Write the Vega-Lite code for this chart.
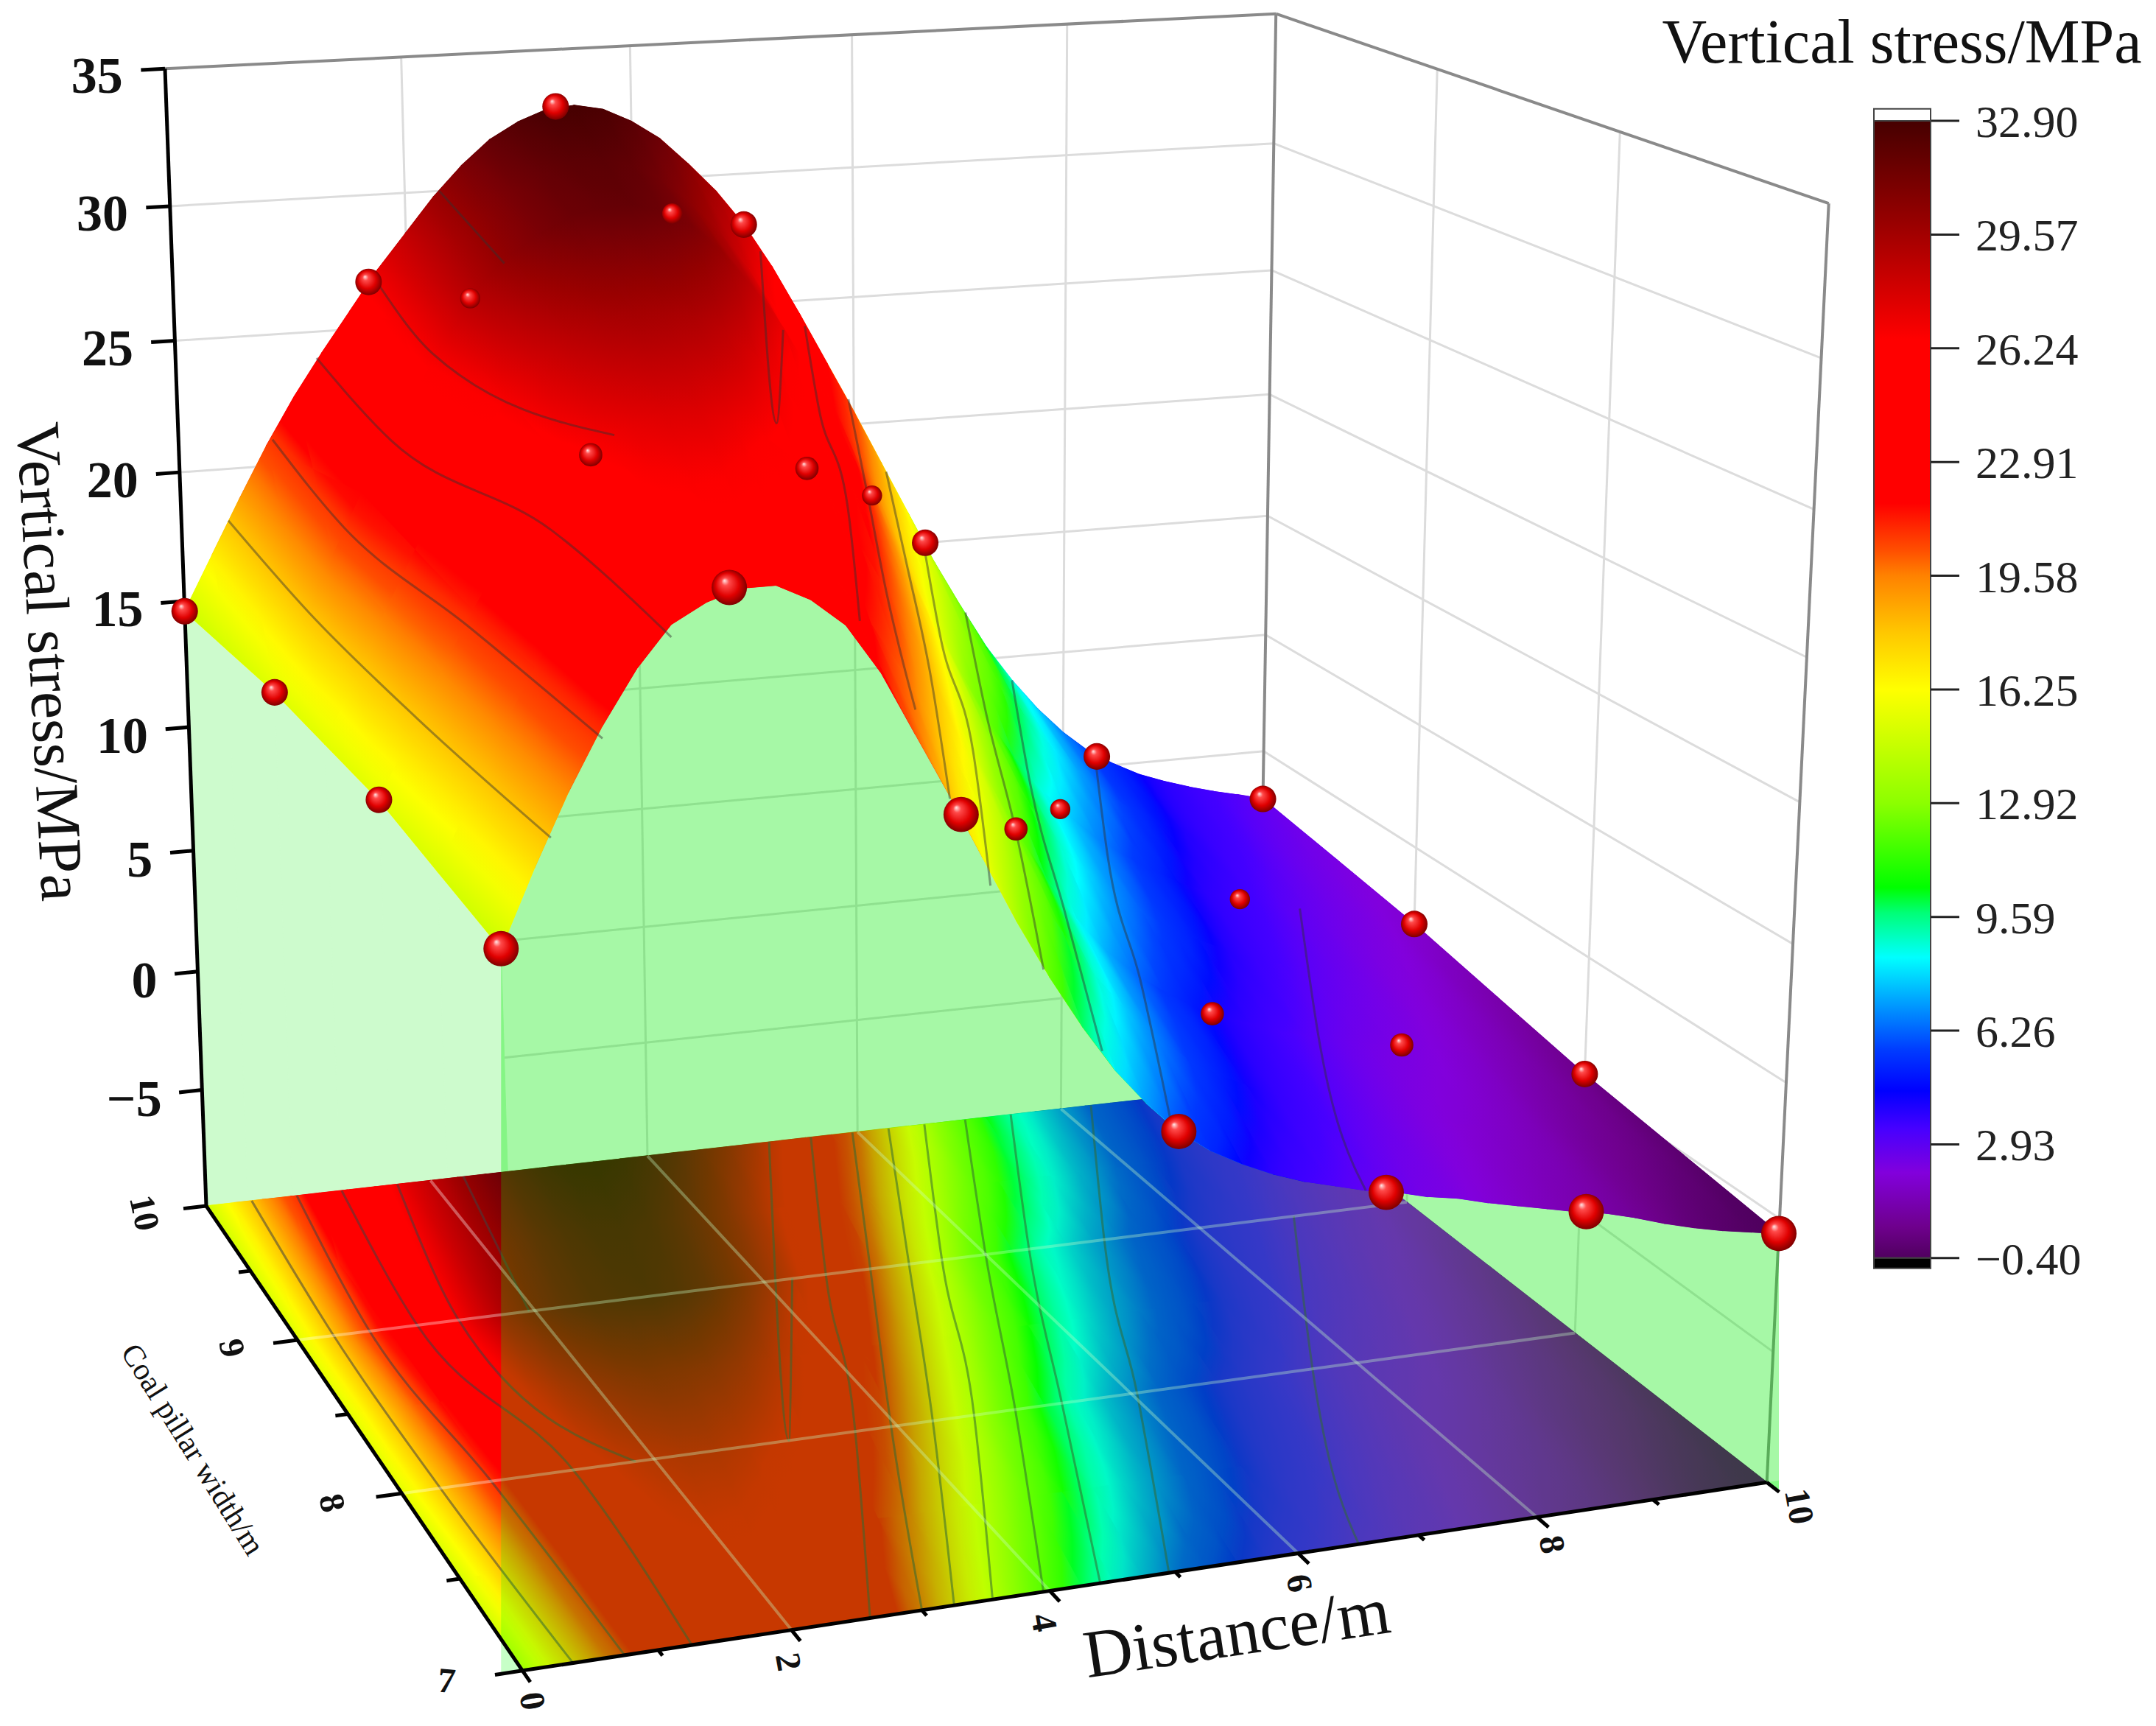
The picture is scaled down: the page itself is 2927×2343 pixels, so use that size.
{"$schema":"https://vega.github.io/schema/vega-lite/v6.json","width":2927,"height":2343,"autosize":"none","padding":0,"background":"white","config":{"view":{"stroke":null},"font":"Liberation Serif"},
"data":{"values":[
{"d":0,"w":10,"z":14.6},{"d":0.25,"w":10,"z":16.7},{"d":0.5,"w":10,"z":18.8},{"d":0.75,"w":10,"z":20.8},{"d":1,"w":10,"z":22.6},{"d":1.25,"w":10,"z":24.2},{"d":1.5,"w":10,"z":25.7},{"d":1.75,"w":10,"z":27.2},{"d":2,"w":10,"z":28.5},{"d":2.25,"w":10,"z":29.8},{"d":2.5,"w":10,"z":30.9},{"d":2.75,"w":10,"z":31.8},{"d":3,"w":10,"z":32.4},{"d":3.25,"w":10,"z":32.8},{"d":3.5,"w":10,"z":32.9},{"d":3.75,"w":10,"z":32.7},{"d":4,"w":10,"z":32.2},{"d":4.25,"w":10,"z":31.5},{"d":4.5,"w":10,"z":30.5},{"d":4.75,"w":10,"z":29.4},{"d":5,"w":10,"z":28.06},{"d":5.25,"w":10,"z":26.4},{"d":5.5,"w":10,"z":24.5},{"d":5.75,"w":10,"z":22.5},{"d":6,"w":10,"z":20.5},{"d":6.25,"w":10,"z":18.4},{"d":6.5,"w":10,"z":16.3},{"d":6.75,"w":10,"z":14.2},{"d":7,"w":10,"z":12.3},{"d":7.25,"w":10,"z":10.5},{"d":7.5,"w":10,"z":9},{"d":7.75,"w":10,"z":7.7},{"d":8,"w":10,"z":6.6},{"d":8.25,"w":10,"z":5.7},{"d":8.5,"w":10,"z":5.05},{"d":8.75,"w":10,"z":4.5},{"d":9,"w":10,"z":4.1},{"d":9.25,"w":10,"z":3.75},{"d":9.5,"w":10,"z":3.45},{"d":9.75,"w":10,"z":3.2},{"d":10,"w":10,"z":2.92},
{"d":0,"w":9.5,"z":14.9},{"d":0.25,"w":9.5,"z":17.15},{"d":0.5,"w":9.5,"z":19.4},{"d":0.75,"w":9.5,"z":21.5},{"d":1,"w":9.5,"z":23.4},{"d":1.25,"w":9.5,"z":25.1},{"d":1.5,"w":9.5,"z":26.7},{"d":1.75,"w":9.5,"z":28.2},{"d":2,"w":9.5,"z":29.4},{"d":2.25,"w":9.5,"z":30.4},{"d":2.5,"w":9.5,"z":31.2},{"d":2.75,"w":9.5,"z":31.75},{"d":3,"w":9.5,"z":32.1},{"d":3.25,"w":9.5,"z":32.15},{"d":3.5,"w":9.5,"z":31.9},{"d":3.75,"w":9.5,"z":31.3},{"d":4,"w":9.5,"z":30.4},{"d":4.25,"w":9.5,"z":29.3},{"d":4.5,"w":9.5,"z":27.85},{"d":4.75,"w":9.5,"z":26.2},{"d":5,"w":9.5,"z":24.4},{"d":5.25,"w":9.5,"z":22.4},{"d":5.5,"w":9.5,"z":20.3},{"d":5.75,"w":9.5,"z":18.2},{"d":6,"w":9.5,"z":16.2},{"d":6.25,"w":9.5,"z":14.3},{"d":6.5,"w":9.5,"z":12.55},{"d":6.75,"w":9.5,"z":10.95},{"d":7,"w":9.5,"z":9.5},{"d":7.25,"w":9.5,"z":8.2},{"d":7.5,"w":9.5,"z":7.1},{"d":7.75,"w":9.5,"z":6.15},{"d":8,"w":9.5,"z":5.35},{"d":8.25,"w":9.5,"z":4.7},{"d":8.5,"w":9.5,"z":4.25},{"d":8.75,"w":9.5,"z":3.8},{"d":9,"w":9.5,"z":3.5},{"d":9.25,"w":9.5,"z":3.2},{"d":9.5,"w":9.5,"z":2.9},{"d":9.75,"w":9.5,"z":2.65},{"d":10,"w":9.5,"z":2.4},
{"d":0,"w":9,"z":15.2},{"d":0.25,"w":9,"z":17.6},{"d":0.5,"w":9,"z":20},{"d":0.75,"w":9,"z":22.2},{"d":1,"w":9,"z":24.2},{"d":1.25,"w":9,"z":26},{"d":1.5,"w":9,"z":27.7},{"d":1.75,"w":9,"z":29.2},{"d":2,"w":9,"z":30.3},{"d":2.25,"w":9,"z":31},{"d":2.5,"w":9,"z":31.5},{"d":2.75,"w":9,"z":31.7},{"d":3,"w":9,"z":31.8},{"d":3.25,"w":9,"z":31.5},{"d":3.5,"w":9,"z":30.9},{"d":3.75,"w":9,"z":29.9},{"d":4,"w":9,"z":28.6},{"d":4.25,"w":9,"z":27.1},{"d":4.5,"w":9,"z":25.2},{"d":4.75,"w":9,"z":23},{"d":5,"w":9,"z":20.7},{"d":5.25,"w":9,"z":18.4},{"d":5.5,"w":9,"z":16.1},{"d":5.75,"w":9,"z":13.9},{"d":6,"w":9,"z":11.9},{"d":6.25,"w":9,"z":10.2},{"d":6.5,"w":9,"z":8.8},{"d":6.75,"w":9,"z":7.7},{"d":7,"w":9,"z":6.7},{"d":7.25,"w":9,"z":5.9},{"d":7.5,"w":9,"z":5.2},{"d":7.75,"w":9,"z":4.6},{"d":8,"w":9,"z":4.1},{"d":8.25,"w":9,"z":3.75},{"d":8.5,"w":9,"z":3.45},{"d":8.75,"w":9,"z":3.15},{"d":9,"w":9,"z":2.9},{"d":9.25,"w":9,"z":2.65},{"d":9.5,"w":9,"z":2.4},{"d":9.75,"w":9,"z":2.1},{"d":10,"w":9,"z":1.86},
{"d":0,"w":8.5,"z":15.25},{"d":0.25,"w":8.5,"z":17.5},{"d":0.5,"w":8.5,"z":19.75},{"d":0.75,"w":8.5,"z":21.85},{"d":1,"w":8.5,"z":23.75},{"d":1.25,"w":8.5,"z":25.4},{"d":1.5,"w":8.5,"z":26.85},{"d":1.75,"w":8.5,"z":28},{"d":2,"w":8.5,"z":28.8},{"d":2.25,"w":8.5,"z":29.3},{"d":2.5,"w":8.5,"z":29.55},{"d":2.75,"w":8.5,"z":29.45},{"d":3,"w":8.5,"z":29.2},{"d":3.25,"w":8.5,"z":28.6},{"d":3.5,"w":8.5,"z":27.65},{"d":3.75,"w":8.5,"z":26.25},{"d":4,"w":8.5,"z":24.6},{"d":4.25,"w":8.5,"z":22.85},{"d":4.5,"w":8.5,"z":20.8},{"d":4.75,"w":8.5,"z":18.6},{"d":5,"w":8.5,"z":16.4},{"d":5.25,"w":8.5,"z":14.3},{"d":5.5,"w":8.5,"z":12.35},{"d":5.75,"w":8.5,"z":10.6},{"d":6,"w":8.5,"z":9.1},{"d":6.25,"w":8.5,"z":7.85},{"d":6.5,"w":8.5,"z":6.8},{"d":6.75,"w":8.5,"z":6},{"d":7,"w":8.5,"z":5.3},{"d":7.25,"w":8.5,"z":4.7},{"d":7.5,"w":8.5,"z":4.2},{"d":7.75,"w":8.5,"z":3.75},{"d":8,"w":8.5,"z":3.4},{"d":8.25,"w":8.5,"z":3.1},{"d":8.5,"w":8.5,"z":2.85},{"d":8.75,"w":8.5,"z":2.6},{"d":9,"w":8.5,"z":2.3},{"d":9.25,"w":8.5,"z":2.05},{"d":9.5,"w":8.5,"z":1.8},{"d":9.75,"w":8.5,"z":1.45},{"d":10,"w":8.5,"z":1.15},
{"d":0,"w":8,"z":15.3},{"d":0.25,"w":8,"z":17.4},{"d":0.5,"w":8,"z":19.5},{"d":0.75,"w":8,"z":21.5},{"d":1,"w":8,"z":23.3},{"d":1.25,"w":8,"z":24.8},{"d":1.5,"w":8,"z":26},{"d":1.75,"w":8,"z":26.8},{"d":2,"w":8,"z":27.3},{"d":2.25,"w":8,"z":27.6},{"d":2.5,"w":8,"z":27.6},{"d":2.75,"w":8,"z":27.2},{"d":3,"w":8,"z":26.6},{"d":3.25,"w":8,"z":25.7},{"d":3.5,"w":8,"z":24.4},{"d":3.75,"w":8,"z":22.6},{"d":4,"w":8,"z":20.6},{"d":4.25,"w":8,"z":18.6},{"d":4.5,"w":8,"z":16.4},{"d":4.75,"w":8,"z":14.2},{"d":5,"w":8,"z":12.1},{"d":5.25,"w":8,"z":10.2},{"d":5.5,"w":8,"z":8.6},{"d":5.75,"w":8,"z":7.3},{"d":6,"w":8,"z":6.3},{"d":6.25,"w":8,"z":5.5},{"d":6.5,"w":8,"z":4.8},{"d":6.75,"w":8,"z":4.3},{"d":7,"w":8,"z":3.9},{"d":7.25,"w":8,"z":3.5},{"d":7.5,"w":8,"z":3.2},{"d":7.75,"w":8,"z":2.9},{"d":8,"w":8,"z":2.65},{"d":8.25,"w":8,"z":2.45},{"d":8.5,"w":8,"z":2.25},{"d":8.75,"w":8,"z":2},{"d":9,"w":8,"z":1.75},{"d":9.25,"w":8,"z":1.45},{"d":9.5,"w":8,"z":1.15},{"d":9.75,"w":8,"z":0.8},{"d":10,"w":8,"z":0.45},
{"d":0,"w":7.5,"z":14.95},{"d":0.25,"w":7.5,"z":17.15},{"d":0.5,"w":7.5,"z":19.45},{"d":0.75,"w":7.5,"z":21.4},{"d":1,"w":7.5,"z":23.2},{"d":1.25,"w":7.5,"z":24.6},{"d":1.5,"w":7.5,"z":25.5},{"d":1.75,"w":7.5,"z":26.1},{"d":2,"w":7.5,"z":26.3},{"d":2.25,"w":7.5,"z":26.2},{"d":2.5,"w":7.5,"z":25.75},{"d":2.75,"w":7.5,"z":24.75},{"d":3,"w":7.5,"z":23.4},{"d":3.25,"w":7.5,"z":21.9},{"d":3.5,"w":7.5,"z":20.15},{"d":3.75,"w":7.5,"z":18.15},{"d":4,"w":7.5,"z":16.15},{"d":4.25,"w":7.5,"z":14.25},{"d":4.5,"w":7.5,"z":12.35},{"d":4.75,"w":7.5,"z":10.6},{"d":5,"w":7.5,"z":9},{"d":5.25,"w":7.5,"z":7.65},{"d":5.5,"w":7.5,"z":6.55},{"d":5.75,"w":7.5,"z":5.65},{"d":6,"w":7.5,"z":4.95},{"d":6.25,"w":7.5,"z":4.4},{"d":6.5,"w":7.5,"z":3.9},{"d":6.75,"w":7.5,"z":3.55},{"d":7,"w":7.5,"z":3.2},{"d":7.25,"w":7.5,"z":2.9},{"d":7.5,"w":7.5,"z":2.6},{"d":7.75,"w":7.5,"z":2.3},{"d":8,"w":7.5,"z":2.05},{"d":8.25,"w":7.5,"z":1.85},{"d":8.5,"w":7.5,"z":1.65},{"d":8.75,"w":7.5,"z":1.4},{"d":9,"w":7.5,"z":1.05},{"d":9.25,"w":7.5,"z":0.75},{"d":9.5,"w":7.5,"z":0.5},{"d":9.75,"w":7.5,"z":0.25},{"d":10,"w":7.5,"z":-0.05},
{"d":0,"w":7,"z":14.6},{"d":0.25,"w":7,"z":17.1},{"d":0.5,"w":7,"z":19.4},{"d":0.75,"w":7,"z":21.4},{"d":1,"w":7,"z":23.1},{"d":1.25,"w":7,"z":24.4},{"d":1.5,"w":7,"z":25},{"d":1.75,"w":7,"z":25.35},{"d":2,"w":7,"z":25.35},{"d":2.25,"w":7,"z":24.8},{"d":2.5,"w":7,"z":23.9},{"d":2.75,"w":7,"z":22.3},{"d":3,"w":7,"z":20.2},{"d":3.25,"w":7,"z":18.1},{"d":3.5,"w":7,"z":15.9},{"d":3.75,"w":7,"z":13.7},{"d":4,"w":7,"z":11.7},{"d":4.25,"w":7,"z":9.9},{"d":4.5,"w":7,"z":8.3},{"d":4.75,"w":7,"z":7},{"d":5,"w":7,"z":5.9},{"d":5.25,"w":7,"z":5.1},{"d":5.5,"w":7,"z":4.5},{"d":5.75,"w":7,"z":4},{"d":6,"w":7,"z":3.6},{"d":6.25,"w":7,"z":3.3},{"d":6.5,"w":7,"z":3},{"d":6.75,"w":7,"z":2.8},{"d":7,"w":7,"z":2.5},{"d":7.25,"w":7,"z":2.3},{"d":7.5,"w":7,"z":2},{"d":7.75,"w":7,"z":1.75},{"d":8,"w":7,"z":1.5},{"d":8.25,"w":7,"z":1.25},{"d":8.5,"w":7,"z":1.05},{"d":8.75,"w":7,"z":0.75},{"d":9,"w":7,"z":0.4},{"d":9.25,"w":7,"z":0.1},{"d":9.5,"w":7,"z":-0.15},{"d":9.75,"w":7,"z":-0.35},{"d":10,"w":7,"z":-0.55},
{"k":"b","d":0,"w":10,"z":14.6},{"k":"b","d":1.667,"w":10,"z":26.75},{"k":"b","d":3.333,"w":10,"z":32.9},{"k":"b","d":5,"w":10,"z":28.06},{"k":"b","d":6.667,"w":10,"z":15},{"k":"b","d":8.333,"w":10,"z":5.44},{"k":"b","d":10,"w":10,"z":2.92},
{"k":"b","d":0,"w":9,"z":15.2},{"k":"b","d":1.667,"w":9,"z":28.85},{"k":"b","d":3.333,"w":9,"z":31.4},{"k":"b","d":5,"w":9,"z":20.7},{"k":"b","d":6.667,"w":9,"z":8},{"k":"b","d":8.333,"w":9,"z":3.64},{"k":"b","d":10,"w":9,"z":1.86},
{"k":"b","d":0,"w":8,"z":15.3},{"k":"b","d":1.667,"w":8,"z":26.4},{"k":"b","d":3.333,"w":8,"z":25.4},{"k":"b","d":5,"w":8,"z":12.1},{"k":"b","d":6.667,"w":8,"z":4.46},{"k":"b","d":8.333,"w":8,"z":2.43},{"k":"b","d":10,"w":8,"z":0.45},
{"k":"b","d":0,"w":7,"z":14.6},{"k":"b","d":1.667,"w":7,"z":25.4},{"k":"b","d":3.333,"w":7,"z":17.45},{"k":"b","d":5,"w":7,"z":5.9},{"k":"b","d":6.667,"w":7,"z":2.83},{"k":"b","d":8.333,"w":7,"z":1.2},{"k":"b","d":10,"w":7,"z":-0.55},
{"k":"c","l":"f3","z":3,"d":8.9,"w":9},{"k":"c","l":"f3","z":3,"d":7.6,"w":8},{"k":"c","l":"f3","z":3,"d":6.5,"w":7},
{"k":"c","l":"f6","z":6,"d":8.3,"w":10},{"k":"c","l":"f6","z":6,"d":7.1,"w":9},{"k":"c","l":"f6","z":6,"d":6.05,"w":8},{"k":"c","l":"f6","z":6,"d":4.95,"w":7},
{"k":"c","l":"f9","z":9,"d":7.5,"w":10},{"k":"c","l":"f9","z":9,"d":6.4,"w":9},{"k":"c","l":"f9","z":9,"d":5.4,"w":8},{"k":"c","l":"f9","z":9,"d":4.4,"w":7},
{"k":"c","l":"f12","z":12,"d":7.05,"w":10},{"k":"c","l":"f12","z":12,"d":6,"w":9},{"k":"c","l":"f12","z":12,"d":5,"w":8},{"k":"c","l":"f12","z":12,"d":3.95,"w":7},
{"k":"c","l":"f15","z":15,"d":6.65,"w":10},{"k":"c","l":"f15","z":15,"d":5.6,"w":9},{"k":"c","l":"f15","z":15,"d":4.65,"w":8},{"k":"c","l":"f15","z":15,"d":3.55,"w":7},
{"k":"c","l":"f18","z":18,"d":6.3,"w":10},{"k":"c","l":"f18","z":18,"d":5.3,"w":9},{"k":"c","l":"f18","z":18,"d":4.3,"w":8},{"k":"c","l":"f18","z":18,"d":3.25,"w":7},
{"k":"c","l":"f21","z":21,"d":5.95,"w":10},{"k":"c","l":"f21","z":21,"d":4.95,"w":9},{"k":"c","l":"f21","z":21,"d":3.95,"w":8},{"k":"c","l":"f21","z":21,"d":3,"w":7},
{"k":"c","l":"f24","z":24,"d":5.55,"w":10},{"k":"c","l":"f24","z":24,"d":4.55,"w":9},{"k":"c","l":"f24","z":24,"d":3.65,"w":8},{"k":"c","l":"f24","z":24,"d":2.6,"w":7},
{"k":"c","l":"f27","z":27,"d":5.15,"w":10},{"k":"c","l":"f27","z":27,"d":4.25,"w":9},{"k":"c","l":"f27","z":27,"d":3.1,"w":8},
{"k":"c","l":"r18","z":18,"d":0.4,"w":10},{"k":"c","l":"r18","z":18,"d":0.3,"w":9},{"k":"c","l":"r18","z":18,"d":0.3,"w":8},{"k":"c","l":"r18","z":18,"d":0.37,"w":7},
{"k":"c","l":"r21","z":21,"d":0.8,"w":10},{"k":"c","l":"r21","z":21,"d":0.6,"w":9},{"k":"c","l":"r21","z":21,"d":0.7,"w":8},{"k":"c","l":"r21","z":21,"d":0.75,"w":7},
{"k":"c","l":"r24","z":24,"d":1.2,"w":10},{"k":"c","l":"r24","z":24,"d":1,"w":9},{"k":"c","l":"r24","z":24,"d":1.35,"w":8},{"k":"c","l":"r24","z":24,"d":1.25,"w":7},
{"k":"c","l":"r27","z":27,"d":1.7,"w":10},{"k":"c","l":"r27","z":27,"d":1.35,"w":9},{"k":"c","l":"r27","z":27,"d":1.85,"w":8},
{"k":"c","l":"r30","z":30,"d":2.3,"w":10},{"k":"c","l":"r30","z":30,"d":1.95,"w":9},
{"k":"gw","l":"b-5","d":0,"w":10,"z":-5},{"k":"gw","l":"b-5","d":10,"w":10,"z":-5},{"k":"gw","l":"r-5","d":10,"w":10,"z":-5},{"k":"gw","l":"r-5","d":10,"w":7,"z":-5},
{"k":"gw","l":"b0","d":0,"w":10,"z":0},{"k":"gw","l":"b0","d":10,"w":10,"z":0},{"k":"gw","l":"r0","d":10,"w":10,"z":0},{"k":"gw","l":"r0","d":10,"w":7,"z":0},
{"k":"gw","l":"b5","d":0,"w":10,"z":5},{"k":"gw","l":"b5","d":10,"w":10,"z":5},{"k":"gw","l":"r5","d":10,"w":10,"z":5},{"k":"gw","l":"r5","d":10,"w":7,"z":5},
{"k":"gw","l":"b10","d":0,"w":10,"z":10},{"k":"gw","l":"b10","d":10,"w":10,"z":10},{"k":"gw","l":"r10","d":10,"w":10,"z":10},{"k":"gw","l":"r10","d":10,"w":7,"z":10},
{"k":"gw","l":"b15","d":0,"w":10,"z":15},{"k":"gw","l":"b15","d":10,"w":10,"z":15},{"k":"gw","l":"r15","d":10,"w":10,"z":15},{"k":"gw","l":"r15","d":10,"w":7,"z":15},
{"k":"gw","l":"b20","d":0,"w":10,"z":20},{"k":"gw","l":"b20","d":10,"w":10,"z":20},{"k":"gw","l":"r20","d":10,"w":10,"z":20},{"k":"gw","l":"r20","d":10,"w":7,"z":20},
{"k":"gw","l":"b25","d":0,"w":10,"z":25},{"k":"gw","l":"b25","d":10,"w":10,"z":25},{"k":"gw","l":"r25","d":10,"w":10,"z":25},{"k":"gw","l":"r25","d":10,"w":7,"z":25},
{"k":"gw","l":"b30","d":0,"w":10,"z":30},{"k":"gw","l":"b30","d":10,"w":10,"z":30},{"k":"gw","l":"r30","d":10,"w":10,"z":30},{"k":"gw","l":"r30","d":10,"w":7,"z":30},
{"k":"gw","l":"v2","d":2,"w":10,"z":-10},{"k":"gw","l":"v2","d":2,"w":10,"z":35},{"k":"gw","l":"v4","d":4,"w":10,"z":-10},{"k":"gw","l":"v4","d":4,"w":10,"z":35},{"k":"gw","l":"v6","d":6,"w":10,"z":-10},{"k":"gw","l":"v6","d":6,"w":10,"z":35},{"k":"gw","l":"v8","d":8,"w":10,"z":-10},{"k":"gw","l":"v8","d":8,"w":10,"z":35},
{"k":"gw","l":"w9","d":10,"w":9,"z":-10},{"k":"gw","l":"w9","d":10,"w":9,"z":35},{"k":"gw","l":"w8","d":10,"w":8,"z":-10},{"k":"gw","l":"w8","d":10,"w":8,"z":35},
{"k":"gf","l":"d2","d":2,"w":10,"z":-10},{"k":"gf","l":"d2","d":2,"w":7,"z":-10},{"k":"gf","l":"d4","d":4,"w":10,"z":-10},{"k":"gf","l":"d4","d":4,"w":7,"z":-10},{"k":"gf","l":"d6","d":6,"w":10,"z":-10},{"k":"gf","l":"d6","d":6,"w":7,"z":-10},{"k":"gf","l":"d8","d":8,"w":10,"z":-10},{"k":"gf","l":"d8","d":8,"w":7,"z":-10},
{"k":"gf","l":"w9","d":0,"w":9,"z":-10},{"k":"gf","l":"w9","d":10,"w":9,"z":-10},{"k":"gf","l":"w8","d":0,"w":8,"z":-10},{"k":"gf","l":"w8","d":10,"w":8,"z":-10},
{"k":"e","l":"a","d":0,"w":10,"z":35},{"k":"e","l":"a","d":10,"w":10,"z":35},{"k":"e","l":"b","d":10,"w":10,"z":35},{"k":"e","l":"b","d":10,"w":7,"z":35},{"k":"e","l":"c","d":10,"w":7,"z":35},{"k":"e","l":"c","d":10,"w":7,"z":-10},{"k":"e","l":"f","d":10,"w":10,"z":35},{"k":"e","l":"f","d":10,"w":10,"z":-10},
{"k":"a","l":"z","d":0,"w":10,"z":35},{"k":"a","l":"z","d":0,"w":10,"z":-10},{"k":"a","l":"l","d":0,"w":10,"z":-10},{"k":"a","l":"l","d":0,"w":7,"z":-10},{"k":"a","l":"f","d":0,"w":7,"z":-10},{"k":"a","l":"f","d":10,"w":7,"z":-10},
{"k":"a","l":"z35","d":0,"w":10,"z":35},{"k":"a","l":"z35","d":-0.2,"w":10,"z":35},{"k":"a","l":"z30","d":0,"w":10,"z":30},{"k":"a","l":"z30","d":-0.2,"w":10,"z":30},{"k":"a","l":"z25","d":0,"w":10,"z":25},{"k":"a","l":"z25","d":-0.2,"w":10,"z":25},{"k":"a","l":"z20","d":0,"w":10,"z":20},{"k":"a","l":"z20","d":-0.2,"w":10,"z":20},{"k":"a","l":"z15","d":0,"w":10,"z":15},{"k":"a","l":"z15","d":-0.2,"w":10,"z":15},{"k":"a","l":"z10","d":0,"w":10,"z":10},{"k":"a","l":"z10","d":-0.2,"w":10,"z":10},{"k":"a","l":"z5","d":0,"w":10,"z":5},{"k":"a","l":"z5","d":-0.2,"w":10,"z":5},{"k":"a","l":"z0","d":0,"w":10,"z":0},{"k":"a","l":"z0","d":-0.2,"w":10,"z":0},{"k":"a","l":"z-5","d":0,"w":10,"z":-5},{"k":"a","l":"z-5","d":-0.2,"w":10,"z":-5},{"k":"a","l":"z-10","d":0,"w":10,"z":-10},{"k":"a","l":"z-10","d":-0.2,"w":10,"z":-10},
{"k":"a","l":"w9m","d":0,"w":9.5,"z":-10},{"k":"a","l":"w9m","d":-0.1,"w":9.5,"z":-10},{"k":"a","l":"w9","d":0,"w":9,"z":-10},{"k":"a","l":"w9","d":-0.2,"w":9,"z":-10},{"k":"a","l":"w8m","d":0,"w":8.5,"z":-10},{"k":"a","l":"w8m","d":-0.1,"w":8.5,"z":-10},{"k":"a","l":"w8","d":0,"w":8,"z":-10},{"k":"a","l":"w8","d":-0.2,"w":8,"z":-10},{"k":"a","l":"w7m","d":0,"w":7.5,"z":-10},{"k":"a","l":"w7m","d":-0.1,"w":7.5,"z":-10},{"k":"a","l":"w7","d":0,"w":7,"z":-10},{"k":"a","l":"w7","d":-0.2,"w":7,"z":-10},
{"k":"a","l":"d0","d":0,"w":7,"z":-10},{"k":"a","l":"d0","d":0,"w":6.94,"z":-10},{"k":"a","l":"d1","d":1,"w":7,"z":-10},{"k":"a","l":"d1","d":1,"w":6.97,"z":-10},{"k":"a","l":"d2","d":2,"w":7,"z":-10},{"k":"a","l":"d2","d":2,"w":6.94,"z":-10},{"k":"a","l":"d3","d":3,"w":7,"z":-10},{"k":"a","l":"d3","d":3,"w":6.97,"z":-10},{"k":"a","l":"d4","d":4,"w":7,"z":-10},{"k":"a","l":"d4","d":4,"w":6.94,"z":-10},{"k":"a","l":"d5","d":5,"w":7,"z":-10},{"k":"a","l":"d5","d":5,"w":6.97,"z":-10},{"k":"a","l":"d6","d":6,"w":7,"z":-10},{"k":"a","l":"d6","d":6,"w":6.94,"z":-10},{"k":"a","l":"d7","d":7,"w":7,"z":-10},{"k":"a","l":"d7","d":7,"w":6.97,"z":-10},{"k":"a","l":"d8","d":8,"w":7,"z":-10},{"k":"a","l":"d8","d":8,"w":6.94,"z":-10},{"k":"a","l":"d9","d":9,"w":7,"z":-10},{"k":"a","l":"d9","d":9,"w":6.97,"z":-10},{"k":"a","l":"d10","d":10,"w":7,"z":-10},{"k":"a","l":"d10","d":10,"w":6.94,"z":-10},
{"k":"zl","d":-0.35,"w":10,"z":35,"lab":"35"},{"k":"zl","d":-0.35,"w":10,"z":30,"lab":"30"},{"k":"zl","d":-0.35,"w":10,"z":25,"lab":"25"},{"k":"zl","d":-0.35,"w":10,"z":20,"lab":"20"},{"k":"zl","d":-0.35,"w":10,"z":15,"lab":"15"},{"k":"zl","d":-0.35,"w":10,"z":10,"lab":"10"},{"k":"zl","d":-0.35,"w":10,"z":5,"lab":"5"},{"k":"zl","d":-0.35,"w":10,"z":0,"lab":"0"},{"k":"zl","d":-0.35,"w":10,"z":-5,"lab":"−5"},
{"k":"dl","d":-0.08,"w":6.85,"z":-10,"lab":"0"},{"k":"dl","d":1.8,"w":6.85,"z":-10,"lab":"2"},{"k":"dl","d":3.75,"w":6.85,"z":-10,"lab":"4"},{"k":"dl","d":5.78,"w":6.85,"z":-10,"lab":"6"},{"k":"dl","d":7.87,"w":6.85,"z":-10,"lab":"8"},{"k":"dl","d":10,"w":6.85,"z":-10,"lab":"10"},
{"k":"wl","d":-0.55,"w":10,"z":-10,"lab":"10"},{"k":"wl","d":-0.55,"w":9,"z":-10,"lab":"9"},{"k":"wl","d":-0.55,"w":8,"z":-10,"lab":"8"},{"k":"wl7","d":-0.55,"w":7,"z":-10,"lab":"7"},
{"k":"t1","d":-1.17,"w":10,"z":13.06,"lab":"Vertical stress/MPa"},{"k":"t2","d":5,"w":6.65,"z":-10,"lab":"Distance/m"},{"k":"t3","d":-1.3,"w":8.41,"z":-10,"lab":"Coal pillar width/m"},
{"k":"cb","cv":32.9},{"k":"cb","cv":29.57},{"k":"cb","cv":26.24},{"k":"cb","cv":22.91},{"k":"cb","cv":19.58},{"k":"cb","cv":16.25},{"k":"cb","cv":12.92},{"k":"cb","cv":9.59},{"k":"cb","cv":6.26},{"k":"cb","cv":2.93},{"k":"cb","cv":-0.4},
{"k":"bar","cv":32.9,"cv2":-0.4},{"k":"top","cv":33.25,"cv2":32.9},{"k":"bot","cv":-0.4,"cv2":-0.7},{"k":"ct","cv":35.15,"lab":"Vertical stress/MPa"}
]},
"transform":[
{"calculate":"datum.d/10","as":"u"},{"calculate":"(10-datum.w)/3","as":"v"},
{"calculate":"1+0.0837*datum.u-0.1889*datum.v","as":"wf"},
{"calculate":"1.8667*(150+841.6*datum.u+158.2*datum.v)/datum.wf","as":"xf"},
{"calculate":"1.8667*(877-20.8*datum.u+108.4*datum.v)/datum.wf","as":"yf"},
{"calculate":"1+0.08*datum.u-0.19*datum.v","as":"wt"},
{"calculate":"1.8667*((120+882.2*datum.u+181.5*datum.v)/datum.wt-22*(1-datum.u)*datum.v)","as":"xt"},
{"calculate":"1.8667*(50-39.2*datum.u+120.9*datum.v)/datum.wt","as":"yt"},
{"calculate":"(datum.z+10)/45","as":"t"},
{"calculate":"datum.t/(1+0.1*(1-datum.t))","as":"s"},
{"calculate":"datum.xf+(datum.xt-datum.xf)*datum.s","as":"x"},
{"calculate":"datum.yf+(datum.yt-datum.yf)*datum.s","as":"y"}
],
"encoding":{"x":{"field":"x","type":"quantitative","scale":{"domain":[0,2927],"nice":false,"zero":false},"axis":null},"y":{"field":"y","type":"quantitative","scale":{"domain":[2343,0],"nice":false,"zero":false},"axis":null}},
"layer":[
{"transform":[{"filter":"datum.k=='gw'"}],"mark":{"type":"line","stroke":"#dcdcdc","strokeWidth":3},"encoding":{"detail":{"field":"l"}}},
{"transform":[{"filter":"datum.k=='e'"}],"mark":{"type":"line","stroke":"#8a8a8a","strokeWidth":4},"encoding":{"detail":{"field":"l"}}},
{"transform":[{"filter":"!datum.k&&datum.d==0"},
{"window":[{"op":"lead","field":"x","as":"xw"},{"op":"lead","field":"y","as":"yw"},{"op":"lead","field":"xf","as":"xfw"},{"op":"lead","field":"yf","as":"yfw"}],"sort":[{"field":"w"}]},
{"filter":"isValid(datum.xw)"},
{"calculate":"'M0,0L'+round((datum.xw-datum.x)*10)/10+','+round((datum.yw-datum.y)*10)/10+'L'+round((datum.xfw-datum.x)*10)/10+','+round((datum.yfw-datum.y)*10)/10+'L'+round((datum.xf-datum.x)*10)/10+','+round((datum.yf-datum.y)*10)/10+'Z'","as":"p"}],
"mark":{"type":"point","filled":true,"opacity":1,"size":4,"fill":"#cdfbcd","stroke":"#cdfbcd","strokeWidth":1},
"encoding":{"shape":{"field":"p","type":"nominal","scale":null,"legend":null}}},
{"transform":[{"filter":"!datum.k"},{"calculate":"datum.xf","as":"x"},{"calculate":"datum.yf","as":"y"},
{"window":[{"op":"lead","field":"x","as":"xn"},{"op":"lead","field":"y","as":"yn"},{"op":"lead","field":"z","as":"zn"}],"groupby":["w"],"sort":[{"field":"d"}]},
{"window":[{"op":"lead","field":"x","as":"xw"},{"op":"lead","field":"y","as":"yw"},{"op":"lead","field":"xn","as":"xnw"},{"op":"lead","field":"yn","as":"ynw"},{"op":"lead","field":"z","as":"zw"},{"op":"lead","field":"zn","as":"znw"}],"groupby":["d"],"sort":[{"field":"w"}]},
{"filter":"isValid(datum.xn)&&isValid(datum.xw)&&isValid(datum.xnw)"},
{"calculate":"(datum.z+datum.zn+datum.zw+datum.znw)/4","as":"zc"},
{"calculate":"'M0,0L'+round((datum.xn-datum.x)*10)/10+','+round((datum.yn-datum.y)*10)/10+'L'+round((datum.xnw-datum.x)*10)/10+','+round((datum.ynw-datum.y)*10)/10+'L'+round((datum.xw-datum.x)*10)/10+','+round((datum.yw-datum.y)*10)/10+'Z'","as":"p"}],
"mark":{"type":"point","filled":true,"opacity":1,"size":4,"strokeWidth":1.5},
"encoding":{"shape":{"field":"p","type":"nominal","scale":null,"legend":null},
"color":{"field":"zc","type":"quantitative","scale":{"domain":[-0.4,0.5,2.1,3.4,4.5,5.7,7.1,8.4,9.7,10.45,12.92,16.25,17.9,19.58,20.3,21.7,26.5,30,32.9],"range":["#50005f","#6e008c","#8200dc","#4600ff","#0000ff","#003cff","#00a0ff","#00ffff","#00ff78","#00ff00","#8cff00","#ffff00","#ffc800","#ff8200","#ff5000","#ff0000","#ff0000","#960000","#460000"],"clamp":true},"legend":null},
"stroke":{"field":"zc","type":"quantitative","legend":null,"scale":{"domain":[-0.4,0.5,2.1,3.4,4.5,5.7,7.1,8.4,9.7,10.45,12.92,16.25,17.9,19.58,20.3,21.7,26.5,30,32.9],"range":["#50005f","#6e008c","#8200dc","#4600ff","#0000ff","#003cff","#00a0ff","#00ffff","#00ff78","#00ff00","#8cff00","#ffff00","#ffc800","#ff8200","#ff5000","#ff0000","#ff0000","#960000","#460000"],"clamp":true}}}},
{"transform":[{"filter":"!datum.k"},{"calculate":"datum.xf","as":"x"},{"calculate":"datum.yf","as":"y"},
{"window":[{"op":"lead","field":"x","as":"xn"},{"op":"lead","field":"y","as":"yn"},{"op":"lead","field":"z","as":"zn"}],"groupby":["w"],"sort":[{"field":"d"}]},
{"window":[{"op":"lead","field":"x","as":"xw"},{"op":"lead","field":"y","as":"yw"},{"op":"lead","field":"xn","as":"xnw"},{"op":"lead","field":"yn","as":"ynw"},{"op":"lead","field":"z","as":"zw"},{"op":"lead","field":"zn","as":"znw"}],"groupby":["d"],"sort":[{"field":"w"}]},
{"filter":"isValid(datum.xn)&&isValid(datum.xw)&&isValid(datum.xnw)"},
{"calculate":"[0,1]","as":"tri"},{"flatten":["tri"]},
{"calculate":"datum.tri?datum.xnw-datum.x:datum.xn-datum.x","as":"bx"},{"calculate":"datum.tri?datum.ynw-datum.y:datum.yn-datum.y","as":"by"},{"calculate":"datum.tri?datum.znw:datum.zn","as":"bz"},
{"calculate":"datum.tri?datum.xw-datum.x:datum.xnw-datum.x","as":"cx"},{"calculate":"datum.tri?datum.yw-datum.y:datum.ynw-datum.y","as":"cy"},{"calculate":"datum.tri?datum.zw:datum.znw","as":"cz"},
{"calculate":"min(0,datum.bx,datum.cx)","as":"mnx"},{"calculate":"min(0,datum.by,datum.cy)","as":"mny"},{"calculate":"max(0,datum.bx,datum.cx)-datum.mnx","as":"W"},{"calculate":"max(0,datum.by,datum.cy)-datum.mny","as":"H"},
{"calculate":"(datum.bx/datum.W)*(datum.cy/datum.H)-(datum.by/datum.H)*(datum.cx/datum.W)","as":"det"},
{"calculate":"((datum.bz-datum.z)*(datum.cy/datum.H)-(datum.by/datum.H)*(datum.cz-datum.z))/datum.det","as":"pa"},
{"calculate":"((datum.bx/datum.W)*(datum.cz-datum.z)-(datum.bz-datum.z)*(datum.cx/datum.W))/datum.det","as":"pb"},
{"calculate":"datum.pa*datum.pa+datum.pb*datum.pb","as":"G"},
{"calculate":"min(datum.z,datum.bz,datum.cz)","as":"q1"},{"calculate":"max(datum.z,datum.bz,datum.cz)","as":"q2"},
{"calculate":"-datum.mnx/datum.W+datum.pa*(datum.q1-datum.z)/datum.G","as":"g1"},{"calculate":"-datum.mny/datum.H+datum.pb*(datum.q1-datum.z)/datum.G","as":"g2"},
{"calculate":"-datum.mnx/datum.W+datum.pa*(datum.q2-datum.z)/datum.G","as":"g3"},{"calculate":"-datum.mny/datum.H+datum.pb*(datum.q2-datum.z)/datum.G","as":"g4"},
{"calculate":"isFinite(datum.g1)&&isFinite(datum.g2)&&isFinite(datum.g3)&&isFinite(datum.g4)","as":"ok"},
{"calculate":"{gradient:'linear',x1:datum.ok?datum.g1:0,y1:datum.ok?datum.g2:0,x2:datum.ok?datum.g3:1,y2:datum.ok?datum.g4:0,stops:[{offset:0,color:scale('color',datum.q1)},{offset:0.25,color:scale('color',datum.q1+(datum.q2-datum.q1)*0.25)},{offset:0.5,color:scale('color',datum.q1+(datum.q2-datum.q1)*0.5)},{offset:0.75,color:scale('color',datum.q1+(datum.q2-datum.q1)*0.75)},{offset:1,color:scale('color',datum.q2)}]}","as":"g"},
{"calculate":"'M0,0L'+round(datum.bx*10)/10+','+round(datum.by*10)/10+'L'+round(datum.cx*10)/10+','+round(datum.cy*10)/10+'Z'","as":"p"}],
"mark":{"type":"point","filled":true,"opacity":1,"size":4,"strokeWidth":1},
"encoding":{"shape":{"field":"p","type":"nominal","scale":null,"legend":null},"fill":{"field":"g","type":"nominal","scale":null,"legend":null},"stroke":{"field":"g","type":"nominal","scale":null,"legend":null}}},
{"transform":[{"filter":"datum.k=='c'"},{"calculate":"datum.xf","as":"x"},{"calculate":"datum.yf","as":"y"}],"mark":{"type":"line","stroke":"#404040","strokeOpacity":0.55,"strokeWidth":3,"interpolate":"monotone"},"encoding":{"detail":{"field":"l"}}},
{"transform":[{"filter":"datum.k=='gf'"},{"calculate":"datum.xf","as":"x"},{"calculate":"datum.yf","as":"y"}],"mark":{"type":"line","stroke":"#ffffff","strokeOpacity":0.35,"strokeWidth":4},"encoding":{"detail":{"field":"l"}}},
{"transform":[{"filter":"!datum.k&&datum.w==7"},{"calculate":"datum.x/1.8667","as":"xs"},{"calculate":"1.8667*(datum.xs<915?877-0.1137*(datum.xs-150):790+(datum.xs-915)*0.778)","as":"yb"}],"mark":{"type":"area","orient":"vertical","fill":"#00eb00","fillOpacity":0.35},"encoding":{"y2":{"field":"yb"}}},
{"transform":[{"filter":"!datum.k&&datum.w==7"},{"calculate":"datum.x/1.8667","as":"xs"},{"calculate":"1.8667*(datum.xs<915?877-0.1137*(datum.xs-150):790+(datum.xs-915)*0.778)","as":"y"},{"calculate":"datum.yf+(datum.x-datum.xf)*(-0.1514)","as":"yb"}],"mark":{"type":"area","orient":"vertical","fill":"#00ff00","fillOpacity":0.22},"encoding":{"y2":{"field":"yb"}}},
{"transform":[{"filter":"datum.k=='a'"}],"mark":{"type":"line","stroke":"#000000","strokeWidth":5},"encoding":{"detail":{"field":"l"}}},
{"transform":[{"filter":"!datum.k"},
{"window":[{"op":"lead","field":"x","as":"xn"},{"op":"lead","field":"y","as":"yn"},{"op":"lead","field":"z","as":"zn"}],"groupby":["w"],"sort":[{"field":"d"}]},
{"window":[{"op":"lead","field":"x","as":"xw"},{"op":"lead","field":"y","as":"yw"},{"op":"lead","field":"xn","as":"xnw"},{"op":"lead","field":"yn","as":"ynw"},{"op":"lead","field":"z","as":"zw"},{"op":"lead","field":"zn","as":"znw"}],"groupby":["d"],"sort":[{"field":"w"}]},
{"filter":"isValid(datum.xn)&&isValid(datum.xw)&&isValid(datum.xnw)"},
{"calculate":"(datum.z+datum.zn+datum.zw+datum.znw)/4","as":"zc"},
{"calculate":"-datum.w*100+datum.d","as":"ord"},
{"calculate":"'M0,0L'+round((datum.xn-datum.x)*10)/10+','+round((datum.yn-datum.y)*10)/10+'L'+round((datum.xnw-datum.x)*10)/10+','+round((datum.ynw-datum.y)*10)/10+'L'+round((datum.xw-datum.x)*10)/10+','+round((datum.yw-datum.y)*10)/10+'Z'","as":"p"}],
"mark":{"type":"point","filled":true,"opacity":1,"size":4,"strokeWidth":1.5},
"encoding":{"order":{"field":"ord","type":"quantitative"},"shape":{"field":"p","type":"nominal","scale":null,"legend":null},
"color":{"field":"zc","type":"quantitative","legend":null},
"stroke":{"field":"zc","type":"quantitative","legend":null}}},
{"transform":[{"filter":"!datum.k"},
{"window":[{"op":"lead","field":"x","as":"xn"},{"op":"lead","field":"y","as":"yn"},{"op":"lead","field":"z","as":"zn"}],"groupby":["w"],"sort":[{"field":"d"}]},
{"window":[{"op":"lead","field":"x","as":"xw"},{"op":"lead","field":"y","as":"yw"},{"op":"lead","field":"xn","as":"xnw"},{"op":"lead","field":"yn","as":"ynw"},{"op":"lead","field":"z","as":"zw"},{"op":"lead","field":"zn","as":"znw"}],"groupby":["d"],"sort":[{"field":"w"}]},
{"filter":"isValid(datum.xn)&&isValid(datum.xw)&&isValid(datum.xnw)"},
{"calculate":"-datum.w*100+datum.d","as":"ord"},
{"calculate":"[0,1]","as":"tri"},{"flatten":["tri"]},
{"calculate":"datum.tri?datum.xnw-datum.x:datum.xn-datum.x","as":"bx"},{"calculate":"datum.tri?datum.ynw-datum.y:datum.yn-datum.y","as":"by"},{"calculate":"datum.tri?datum.znw:datum.zn","as":"bz"},
{"calculate":"datum.tri?datum.xw-datum.x:datum.xnw-datum.x","as":"cx"},{"calculate":"datum.tri?datum.yw-datum.y:datum.ynw-datum.y","as":"cy"},{"calculate":"datum.tri?datum.zw:datum.znw","as":"cz"},
{"calculate":"min(0,datum.bx,datum.cx)","as":"mnx"},{"calculate":"min(0,datum.by,datum.cy)","as":"mny"},{"calculate":"max(0,datum.bx,datum.cx)-datum.mnx","as":"W"},{"calculate":"max(0,datum.by,datum.cy)-datum.mny","as":"H"},
{"calculate":"(datum.bx/datum.W)*(datum.cy/datum.H)-(datum.by/datum.H)*(datum.cx/datum.W)","as":"det"},
{"calculate":"((datum.bz-datum.z)*(datum.cy/datum.H)-(datum.by/datum.H)*(datum.cz-datum.z))/datum.det","as":"pa"},
{"calculate":"((datum.bx/datum.W)*(datum.cz-datum.z)-(datum.bz-datum.z)*(datum.cx/datum.W))/datum.det","as":"pb"},
{"calculate":"datum.pa*datum.pa+datum.pb*datum.pb","as":"G"},
{"calculate":"min(datum.z,datum.bz,datum.cz)","as":"q1"},{"calculate":"max(datum.z,datum.bz,datum.cz)","as":"q2"},
{"calculate":"-datum.mnx/datum.W+datum.pa*(datum.q1-datum.z)/datum.G","as":"g1"},{"calculate":"-datum.mny/datum.H+datum.pb*(datum.q1-datum.z)/datum.G","as":"g2"},
{"calculate":"-datum.mnx/datum.W+datum.pa*(datum.q2-datum.z)/datum.G","as":"g3"},{"calculate":"-datum.mny/datum.H+datum.pb*(datum.q2-datum.z)/datum.G","as":"g4"},
{"calculate":"isFinite(datum.g1)&&isFinite(datum.g2)&&isFinite(datum.g3)&&isFinite(datum.g4)","as":"ok"},
{"calculate":"{gradient:'linear',x1:datum.ok?datum.g1:0,y1:datum.ok?datum.g2:0,x2:datum.ok?datum.g3:1,y2:datum.ok?datum.g4:0,stops:[{offset:0,color:scale('color',datum.q1)},{offset:0.25,color:scale('color',datum.q1+(datum.q2-datum.q1)*0.25)},{offset:0.5,color:scale('color',datum.q1+(datum.q2-datum.q1)*0.5)},{offset:0.75,color:scale('color',datum.q1+(datum.q2-datum.q1)*0.75)},{offset:1,color:scale('color',datum.q2)}]}","as":"g"},
{"calculate":"'M0,0L'+round(datum.bx*10)/10+','+round(datum.by*10)/10+'L'+round(datum.cx*10)/10+','+round(datum.cy*10)/10+'Z'","as":"p"}],
"mark":{"type":"point","filled":true,"opacity":1,"size":4,"strokeWidth":1},
"encoding":{"order":{"field":"ord","type":"quantitative"},"shape":{"field":"p","type":"nominal","scale":null,"legend":null},"fill":{"field":"g","type":"nominal","scale":null,"legend":null},"stroke":{"field":"g","type":"nominal","scale":null,"legend":null}}},
{"transform":[{"filter":"datum.k=='c'"}],"mark":{"type":"line","stroke":"#303030","strokeOpacity":0.45,"strokeWidth":3,"interpolate":"monotone"},"encoding":{"detail":{"field":"l"}}},
{"transform":[{"filter":"datum.k=='b'"},{"calculate":"datum.w==7?2300:(datum.w==10||datum.d==0||datum.d==10)?1300:datum.w==8?1000:750","as":"sz"}],
"mark":{"type":"point","filled":true,"opacity":1,"shape":"circle","fill":{"gradient":"radial","x1":0.36,"y1":0.3,"r1":0,"x2":0.5,"y2":0.5,"r2":0.55,"stops":[{"offset":0,"color":"#ffecec"},{"offset":0.2,"color":"#ff4a4a"},{"offset":0.6,"color":"#e00000"},{"offset":1,"color":"#6a0000"}]}},
"encoding":{"size":{"field":"sz","type":"quantitative","scale":null,"legend":null}}},
{"transform":[{"filter":"datum.k=='zl'"}],"mark":{"type":"text","font":"Liberation Serif","fontWeight":"bold","fontSize":70,"align":"right","baseline":"middle","dy":9,"color":"#111"},"encoding":{"text":{"field":"lab"}}},
{"transform":[{"filter":"datum.k=='dl'"},{"calculate":"datum.xf","as":"x"},{"calculate":"datum.yf","as":"y"}],"mark":{"type":"text","font":"Liberation Serif","fontWeight":"bold","fontSize":48,"align":"center","baseline":"middle","angle":80,"color":"#111"},"encoding":{"text":{"field":"lab"}}},
{"transform":[{"filter":"datum.k=='wl'"},{"calculate":"datum.xf","as":"x"},{"calculate":"datum.yf","as":"y"}],"mark":{"type":"text","font":"Liberation Serif","fontWeight":"bold","fontSize":48,"align":"center","baseline":"middle","angle":78,"color":"#111"},"encoding":{"text":{"field":"lab"}}},
{"transform":[{"filter":"datum.k=='wl7'"},{"calculate":"datum.xf","as":"x"},{"calculate":"datum.yf","as":"y"}],"mark":{"type":"text","font":"Liberation Serif","fontWeight":"bold","fontSize":48,"align":"center","baseline":"middle","angle":5,"color":"#111"},"encoding":{"text":{"field":"lab"}}},
{"transform":[{"filter":"datum.k=='t1'"}],"mark":{"type":"text","font":"Liberation Serif","fontSize":84,"align":"center","baseline":"middle","angle":87,"color":"#111"},"encoding":{"text":{"field":"lab"}}},
{"transform":[{"filter":"datum.k=='t2'"},{"calculate":"datum.xf","as":"x"},{"calculate":"datum.yf","as":"y"}],"mark":{"type":"text","font":"Liberation Serif","fontSize":92,"align":"center","baseline":"middle","angle":-8.5,"color":"#111"},"encoding":{"text":{"field":"lab"}}},
{"transform":[{"filter":"datum.k=='t3'"},{"calculate":"datum.xf","as":"x"},{"calculate":"datum.yf","as":"y"}],"mark":{"type":"text","font":"Liberation Serif","fontSize":42,"align":"center","baseline":"middle","angle":58,"color":"#111"},"encoding":{"text":{"field":"lab"}}},
{"transform":[{"filter":"datum.k=='bar'"},{"calculate":"2544","as":"x"},{"calculate":"2621","as":"xe"},{"calculate":"164+(32.9-datum.cv)*46.36","as":"y"},{"calculate":"164+(32.9-datum.cv2)*46.36","as":"ye"}],"mark":{"type":"rect","stroke":"#444","strokeWidth":2,"fill":{"gradient":"linear","x1":0,"y1":1,"x2":0,"y2":0,"stops":[{"offset":0,"color":"#50005f"},{"offset":0.027,"color":"#6e008c"},{"offset":0.0751,"color":"#8200dc"},{"offset":0.1141,"color":"#4600ff"},{"offset":0.1471,"color":"#0000ff"},{"offset":0.1832,"color":"#003cff"},{"offset":0.2252,"color":"#00a0ff"},{"offset":0.2643,"color":"#00ffff"},{"offset":0.3033,"color":"#00ff78"},{"offset":0.3258,"color":"#00ff00"},{"offset":0.4,"color":"#8cff00"},{"offset":0.5,"color":"#ffff00"},{"offset":0.5495,"color":"#ffc800"},{"offset":0.6,"color":"#ff8200"},{"offset":0.6216,"color":"#ff5000"},{"offset":0.6637,"color":"#ff0000"},{"offset":0.8078,"color":"#ff0000"},{"offset":0.9129,"color":"#960000"},{"offset":1,"color":"#460000"}]}},"encoding":{"x2":{"field":"xe"},"y2":{"field":"ye"}}},
{"transform":[{"filter":"datum.k=='cb'"},{"calculate":"2621","as":"x"},{"calculate":"2660","as":"xe"},{"calculate":"164+(32.9-datum.cv)*46.36","as":"y"}],"mark":{"type":"rule","stroke":"#222","strokeWidth":3},"encoding":{"x2":{"field":"xe"}}},
{"transform":[{"filter":"datum.k=='cb'"},{"calculate":"2682","as":"x"},{"calculate":"164+(32.9-datum.cv)*46.36","as":"y"}],"mark":{"type":"text","font":"Liberation Serif","fontSize":62,"align":"left","baseline":"middle","dy":3,"color":"#222"},"encoding":{"text":{"field":"cv","type":"quantitative","format":".2f"}}},
{"transform":[{"filter":"datum.k=='top'||datum.k=='bot'"},{"calculate":"2544","as":"x"},{"calculate":"2621","as":"xe"},{"calculate":"164+(32.9-datum.cv)*46.36","as":"y"},{"calculate":"164+(32.9-datum.cv2)*46.36","as":"ye"},{"calculate":"datum.k=='top'?'#ffffff':'#000000'","as":"fc"}],"mark":{"type":"rect","stroke":"#444","strokeWidth":2},"encoding":{"x2":{"field":"xe"},"y2":{"field":"ye"},"fill":{"field":"fc","type":"nominal","scale":null,"legend":null}}},
{"transform":[{"filter":"datum.k=='ct'"},{"calculate":"2582","as":"x"},{"calculate":"164+(32.9-datum.cv)*46.36","as":"y"}],"mark":{"type":"text","font":"Liberation Serif","fontSize":84,"align":"center","baseline":"middle","color":"#111"},"encoding":{"text":{"field":"lab"}}}
],
"resolve":{"scale":{"stroke":"shared","color":"shared"}}}
